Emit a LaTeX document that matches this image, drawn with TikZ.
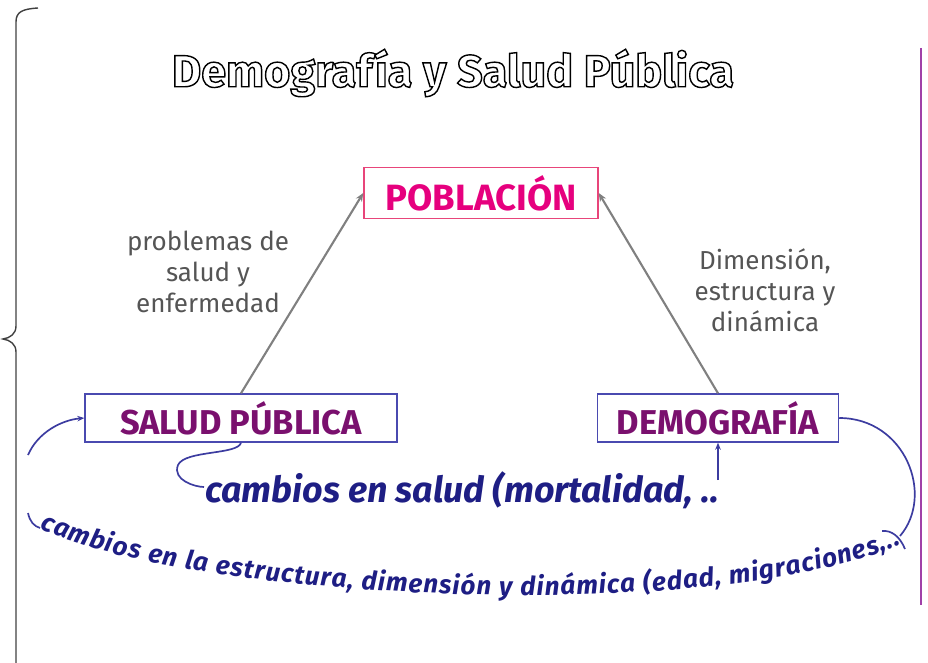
\documentclass[tikz,border=0pt]{standalone}
\usepackage{fontspec}
\setmainfont{Fira Sans}
\usetikzlibrary{arrows.meta,decorations.text}

\definecolor{pobpink}{HTML}{E6007E}
\definecolor{pobframe}{HTML}{E8457A}
\definecolor{boxframe}{HTML}{4A4AB0}
\definecolor{boxtext}{HTML}{7A106E}
\definecolor{labelgray}{HTML}{555555}
\definecolor{cambionavy}{HTML}{1E1E84}
\definecolor{loopblue}{HTML}{3C3CA0}
\definecolor{sidepurple}{HTML}{A040A8}
\definecolor{bracegray}{HTML}{404040}

% hollow letters for the heading
\newcommand{\hollowtext}[1]{\special{pdf:literal direct 1 Tr 1 w}#1\special{pdf:literal direct 0 Tr}}

\tikzset{
	topbox/.style={draw=pobframe, line width=1pt, text=pobpink, font=\fontsize{26}{30}\selectfont\bfseries,
		minimum width=5.85cm, minimum height=1.275cm},
	fieldbox/.style={draw=boxframe, line width=1pt, text=boxtext, font=\fontsize{24.5}{28}\selectfont\bfseries,
		minimum height=1.2cm},
	linklabel/.style={text=labelgray, align=center, font=\fontsize{18.5}{22}\selectfont},
	cambiotext/.style={text=cambionavy, font=\fontsize{25.5}{28}\selectfont\bfseries\itshape},
	grayarrow/.style={draw=gray, line width=1.5pt, -{Stealth[length=6pt,width=5pt]}},
	loopline/.style={draw=loopblue, line width=1.2pt},
	looparrow/.style={loopline, -{Stealth[length=5pt,width=4pt]}},
}

\begin{document}
\begin{tikzpicture}[x=0.025cm, y=-0.025cm]
	\useasboundingbox (0,0) rectangle (928,663);

	% frame pieces
	\draw[bracegray, line width=1pt] (38,8) .. controls (22,9) and (16,12) .. (16,22) -- (16,326)
		.. controls (16,334) and (10,338) .. (3,339) .. controls (10,340) and (16,344) .. (16,352) -- (16,663);
	\draw[sidepurple, line width=1.5pt] (921,48) -- (921,605);

	% title
	\node[font=\fontsize{32}{36}\selectfont\bfseries] (title) at (453,73) {\hollowtext{Demografía y Salud Pública}};

	% boxes
	\node[topbox] (pob) at (481,193) {POBLACIÓN};
	\node[fieldbox, minimum width=7.8cm] (salud) at (241,418) {SALUD PÚBLICA};
	\node[fieldbox, minimum width=6.025cm] (demo) at (718,418) {DEMOGRAFÍA};

	\node[linklabel] (probl) at (208,272) {problemas de\\salud y\\enfermedad};
	\node[linklabel] (dimen) at (765,290) {Dimensión,\\estructura y\\dinámica};

	\draw[grayarrow] (salud.north) -- (pob.west);
	\draw[grayarrow] (demo.north) -- (pob.east);

	% health changes
	\node[cambiotext] (cambsal) at (462,490) {cambios en salud (mortalidad, ..};
	\coordinate (dotend) at (718,480);
	\coordinate (salstart) at (204,487);
	\draw[loopline] (salud.south) .. controls (238,455) and (185,450) .. (178,465)
		.. controls (172,480) and (195,487) .. (salstart);
	\draw[looparrow] (dotend) -- (demo.south);

	% structure changes
	\coordinate (leftup) at (28,455);
	\coordinate (leftdown) at (28,513);
	\coordinate (txtstart) at (40,528);
	\coordinate (txtend) at (900,545);
	\coordinate (rightend) at (900,536);
	\draw[looparrow] (leftup) .. controls (38,432) and (62,420) .. (salud.west);
	\draw[loopline] (leftdown) .. controls (30,522) and (34,526) .. (txtstart);
	\path[decorate, decoration={text along path, text align={fit to path},
		text={|\fontsize{18.5}{19}\selectfont\bfseries\itshape\color{cambionavy}|cambios en la estructura, dimensión y dinámica (edad, migraciones,..}}]
		(txtstart) .. controls (180,598) and (700,628) .. (txtend);
	\draw[loopline] (demo.east) .. controls (905,418) and (935,495) .. (rightend);
	\draw[loopline] (882,531) .. controls (892,530) and (900,537) .. (905,549);
\end{tikzpicture}
\end{document}
